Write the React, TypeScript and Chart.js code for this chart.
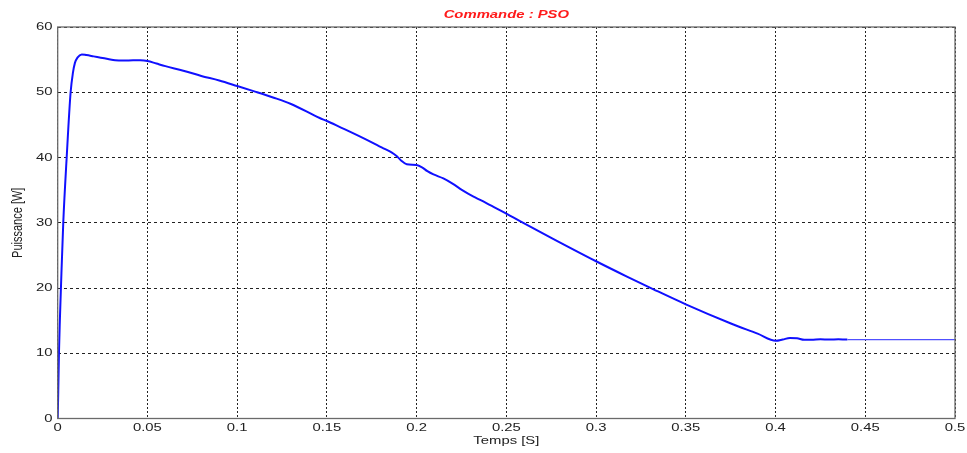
import React, { useEffect, useRef } from "react";
import { Chart, registerables } from "chart.js";

Chart.register(...registerables);

const chartTitle = "Commande : PSO";
const xAxisTitle = "Temps [S]";
const yAxisTitle = "Puissance [W]";

const timeS = [0, 0.0003, 0.0007, 0.0012, 0.0018, 0.0031, 0.005, 0.0072, 0.0085, 0.0096, 0.011, 0.0134, 0.016, 0.02, 0.024, 0.028, 0.032, 0.037, 0.042, 0.046, 0.05, 0.055, 0.06, 0.07, 0.08, 0.09, 0.1, 0.11, 0.12, 0.13, 0.146, 0.15, 0.157, 0.17, 0.1815, 0.186, 0.189, 0.1915, 0.1945, 0.2, 0.203, 0.206, 0.2094, 0.2149, 0.22, 0.2254, 0.2317, 0.2354, 0.241, 0.25, 0.2576, 0.2763, 0.3, 0.3172, 0.332, 0.35, 0.3748, 0.39, 0.4002, 0.404, 0.408, 0.412, 0.416, 0.42, 0.425, 0.43, 0.435, 0.44, 0.45, 0.5];
const powerW = [0, 4, 10, 15, 20, 30, 40, 50, 53, 54.5, 55.3, 55.8, 55.7, 55.5, 55.3, 55.1, 54.9, 54.85, 54.9, 54.9, 54.8, 54.4, 54.0, 53.3, 52.5, 51.8, 50.96, 50.1, 49.2, 48.2, 46.05, 45.6, 44.7, 43.0, 41.4, 40.8, 40.2, 39.5, 38.96, 38.85, 38.5, 37.9, 37.4, 36.8, 36.0, 35.0, 34.0, 33.5, 32.7, 31.4, 30.25, 27.5, 24.1, 21.75, 19.8, 17.5, 14.6, 13.0, 11.9, 12.1, 12.35, 12.3, 12.05, 12.05, 12.15, 12.1, 12.15, 12.1, 12.1, 12.1];

const xTickValues = [0, 0.05, 0.1, 0.15, 0.2, 0.25, 0.3, 0.35, 0.4, 0.45, 0.5];
const xTickLabels = ["0", "0.05", "0.1", "0.15", "0.2", "0.25", "0.3", "0.35", "0.4", "0.45", "0.5"];
const yTickValues = [0, 10, 20, 30, 40, 50, 60];
const yTickLabels = ["0", "10", "20", "30", "40", "50", "60"];

const FONT = "'Liberation Sans', Arial, Helvetica, sans-serif";
const STRETCH = 1.35;

function stretchedText(ctx: any, text: string, x: number, y: number, align: string) {
  ctx.save();
  ctx.translate(x, y);
  ctx.scale(STRETCH, 1);
  ctx.textAlign = align;
  ctx.fillText(text, 0, 0);
  ctx.restore();
}

const framePlugin = {
  id: "frameAndTexts",
  afterDraw(chart: any) {
    const { ctx, chartArea, scales } = chart;
    const { left, right, top, bottom } = chartArea;
    ctx.save();
    ctx.strokeStyle = "#6a6a6a";
    ctx.lineWidth = 1.3;
    ctx.strokeRect(left, top, right - left, bottom - top);

    ctx.textBaseline = "middle";
    ctx.fillStyle = "#ff1a1a";
    ctx.font = `italic bold 11px ${FONT}`;
    stretchedText(ctx, chartTitle, (left + right) / 2, 15, "center");

    ctx.fillStyle = "#222";
    ctx.font = `11px ${FONT}`;
    xTickValues.forEach((v, i) => {
      stretchedText(ctx, xTickLabels[i], scales.x.getPixelForValue(v), 427.5, "center");
    });
    yTickValues.forEach((v, i) => {
      stretchedText(ctx, yTickLabels[i], 52.5, scales.y.getPixelForValue(v), "right");
    });
    stretchedText(ctx, xAxisTitle, (left + right) / 2, 440.5, "center");

    ctx.save();
    ctx.translate(18, (top + bottom) / 2);
    ctx.rotate(-Math.PI / 2);
    ctx.scale(1, STRETCH);
    ctx.textAlign = "center";
    ctx.fillText(yAxisTitle, 0, 0);
    ctx.restore();
    ctx.restore();
  },
};

export default function App() {
  const ref = useRef<HTMLCanvasElement>(null);

  useEffect(() => {
    if (!ref.current) return;
    const data = timeS.map((t, i) => ({ x: t, y: powerW[i] }));
    const chart = new Chart(ref.current, {
      type: "line",
      data: {
        datasets: [
          {
            data,
            borderColor: "#1010ff",
            borderWidth: 2,
            pointRadius: 0,
            cubicInterpolationMode: "monotone",
            segment: {
              borderWidth: (c: any) => (c.p0.parsed.x >= 0.44 ? 1.3 : 2),
              borderColor: (c: any) => (c.p0.parsed.x >= 0.44 ? "#5050ff" : "#1010ff"),
            },
          },
        ],
      },
      options: {
        animation: false,
        responsive: false,
        devicePixelRatio: 1,
        layout: { padding: { top: 27, right: 12, left: 0, bottom: 0 } },
        plugins: { legend: { display: false }, title: { display: false }, tooltip: { enabled: false } },
        scales: {
          x: {
            type: "linear",
            min: xTickValues[0],
            max: xTickValues[xTickValues.length - 1],
            afterFit: (s: any) => { s.height = 34.5; },
            afterBuildTicks: (s: any) => { s.ticks = xTickValues.map((v) => ({ value: v })); },
            ticks: { display: false, autoSkip: false },
            grid: { color: "#222", lineWidth: 1, drawTicks: false },
            border: { display: false, dash: [2, 2] },
          },
          y: {
            type: "linear",
            min: yTickValues[0],
            max: yTickValues[yTickValues.length - 1],
            afterFit: (s: any) => { s.width = 57.7; },
            afterBuildTicks: (s: any) => { s.ticks = yTickValues.map((v) => ({ value: v })); },
            ticks: { display: false },
            grid: { color: "#222", lineWidth: 1, drawTicks: false },
            border: { display: false, dash: [3, 3] },
          },
        },
      },
      plugins: [framePlugin],
    } as any);
    return () => chart.destroy();
  }, []);

  return (
    <div style={{ position: "absolute", left: 0, top: 0, width: 967, height: 453, background: "#fff" }}>
      <canvas ref={ref} width={967} height={453} />
    </div>
  );
}
